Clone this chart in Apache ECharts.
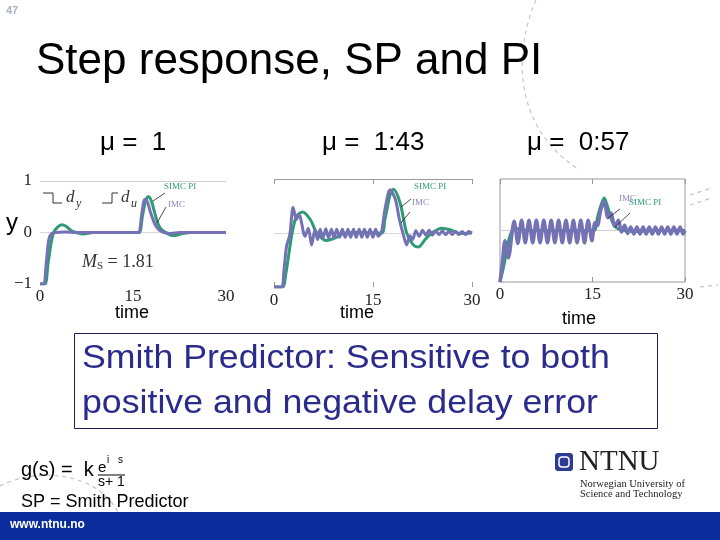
<!DOCTYPE html>
<html><head><meta charset="utf-8">
<script src="https://cdn.jsdelivr.net/npm/echarts/dist/echarts.min.js"></script>
<style>html,body{margin:0;padding:0;background:#fff}#c{width:720px;height:540px}</style>
</head><body><div id="c"></div>
<script>
// ---- data ----
const xTicks = [0, 15, 30];
const yTicks = [-1, 0, 1];
const panelTitles = ['μ =  1', 'μ =  1:43', 'μ =  0:57'];
const seriesNames = ['SIMC PI', 'IMC'];

// panel 1 : mu = 1
const simc1T = [0, 0.8, 1.3, 1.8, 2.2, 2.8, 3.5, 4.2, 5, 5.8, 7, 8.5, 10, 15, 16, 16.5, 17, 17.5, 18, 18.5, 19, 19.5, 20.3, 21.5, 23, 24.5, 30];
const simc1Y = [-1, -1, -0.6, -0.2, 0, 0.1, 0.15, 0.12, 0.04, 0, -0.03, 0, 0, 0, 0, 0.3, 0.6, 0.7, 0.6, 0.38, 0.18, 0.07, 0, -0.06, -0.02, 0, 0];
const imc1T = [0, 0.6, 1.0, 1.4, 1.8, 2.5, 4, 6, 15, 15.9, 16.4, 16.9, 17.3, 17.8, 18.5, 19.2, 20, 21, 22.5, 30];
const imc1Y = [-1, -1, -0.6, -0.15, -0.03, 0, 0.01, 0, 0, 0, 0.35, 0.64, 0.6, 0.4, 0.17, 0.05, 0, -0.02, 0, 0];

// panel 2 : mu = 1.43
const simc2T = [0, 1.3, 1.8, 2.2, 2.7, 3.4, 4.35, 5.5, 6.5, 8, 9.3, 10.5, 13, 16.3, 16.8, 17.6, 18.1, 19.1, 20.1, 21.1, 21.9, 22.9, 23.9, 25.4, 26.7, 28.2, 30];
const simc2Y = [-1, -1, -0.75, -0.43, -0.03, 0.31, 0.39, 0.25, 0, -0.14, -0.09, -0.01, 0.01, 0, 0.25, 0.71, 0.81, 0.56, 0, -0.22, -0.26, -0.12, 0, 0.09, 0.06, -0.01, 0];
const imc2T = [0, 1.15, 1.5, 1.9, 2.4, 2.9, 3.4, 3.8, 4.7, 5.2, 5.7, 6.2, 6.6, 7.0, 7.4, 7.85, 8.25, 8.7, 9.1, 9.5, 9.95, 10.35, 10.8, 11.2, 11.6, 12.05, 12.45, 12.9, 13.3, 13.7, 14.15, 14.55, 15.0, 15.4, 15.8, 16.3, 16.8, 17.6, 18.4, 19.0, 19.6, 20.1, 20.6, 21.0, 21.5, 22.0, 22.5, 23.0, 23.5, 24.0, 24.5, 25.0, 25.5, 26.0, 26.5, 27.0, 27.5, 28.0, 28.5, 29.0, 29.5, 30];
const imc2Y = [-1, -1, -0.7, -0.25, -0.03, 0.47, 0.25, 0.34, -0.06, 0.09, -0.22, 0.06, -0.12, 0.07, -0.1, 0.08, -0.09, 0.07, -0.09, 0.07, -0.08, 0.07, -0.08, 0.07, -0.08, 0.07, -0.08, 0.07, -0.08, 0.07, -0.08, 0.07, -0.08, 0.07, -0.06, 0.02, 0.43, 0.8, 0.62, 0.25, -0.03, -0.22, -0.05, -0.12, 0.04, -0.06, 0.05, -0.04, 0.05, -0.04, 0.04, -0.03, 0.04, -0.03, 0.03, -0.03, 0.03, -0.03, 0.03, -0.03, 0.03, 0];

// panel 3 : mu = 0.57
const simc3T = [0, 0.5, 1.0, 1.5, 2.0, 2.6, 4, 6, 8, 10, 12, 14, 15.3, 15.8, 16.4, 16.9, 17.4, 17.9, 18.5, 19.2, 20, 22, 25, 30];
const simc3Y = [-1, -0.75, -0.45, -0.15, 0, 0.04, 0.01, 0, 0, 0, 0, 0, 0, 0.25, 0.5, 0.63, 0.48, 0.27, 0.1, 0.03, 0, -0.02, 0, 0];
const imc3T = [0, 0.4, 0.8, 1.35, 2.3, 2.9, 3.5, 4.1, 4.7, 5.3, 5.9, 6.5, 7.1, 7.7, 8.3, 8.9, 9.5, 10.1, 10.7, 11.3, 11.9, 12.5, 13.1, 13.7, 14.3, 14.9, 15.4, 15.8, 16.3, 16.9, 17.5, 18.0, 18.6, 19.2, 19.7, 20.2, 20.7, 21.2, 21.7, 22.2, 22.7, 23.2, 23.7, 24.2, 24.7, 25.2, 25.7, 26.2, 26.7, 27.2, 27.7, 28.2, 28.7, 29.2, 29.7, 30];
const imc3Y = [-1, -0.6, -0.2, -0.53, 0.18, -0.25, 0.2, -0.24, 0.2, -0.24, 0.2, -0.24, 0.2, -0.24, 0.2, -0.24, 0.2, -0.24, 0.2, -0.24, 0.2, -0.24, 0.2, -0.24, 0.2, -0.2, 0.15, 0.1, 0.38, 0.57, 0.25, 0.34, 0.08, 0.2, -0.03, 0.1, -0.06, 0.07, -0.07, 0.07, -0.07, 0.07, -0.07, 0.07, -0.07, 0.07, -0.07, 0.07, -0.07, 0.07, -0.07, 0.07, -0.07, 0.07, -0.07, 0];

// ---- build ----
const GREEN = '#2e9a78', PURPLE = '#7471b5';
const zip = (t, y) => t.map((v, i) => [v, y[i]]);
const panels = [
  { simc: zip(simc1T, simc1Y), imc: zip(imc1T, imc1Y) },
  { simc: zip(simc2T, simc2Y), imc: zip(imc2T, imc2Y) },
  { simc: zip(simc3T, simc3Y), imc: zip(imc3T, imc3Y) }
];
const grids = [
  { left: 40, top: 181, width: 186, height: 103 },
  { left: 274, top: 179, width: 198, height: 108 },
  { left: 500, top: 179, width: 185, height: 103, show: true, borderColor: '#999', borderWidth: 1 }
];
const labelMargins = [4, 5, 4];
const splitColors = [
  ['rgba(0,0,0,0)', '#d8d8d8', '#cfcfcf'],
  ['rgba(0,0,0,0)', '#d8d8d8', '#9a9a9a'],
  ['rgba(0,0,0,0)', '#d0d0d0', 'rgba(0,0,0,0)']
];
const serif = '"Liberation Serif", "DejaVu Serif", serif';
const sans = '"Liberation Sans", Arial, sans-serif';

const xAxis = grids.map((g, i) => ({
  type: 'value', gridIndex: i, position: 'bottom', min: xTicks[0], max: xTicks[2], interval: xTicks[1] - xTicks[0],
  axisLine: { show: false, onZero: false },
  axisTick: { show: i > 0, inside: true, length: 5, lineStyle: { color: '#999' } },
  splitLine: { show: false },
  axisLabel: { fontFamily: serif, fontSize: 17, color: '#222', margin: labelMargins[i] }
}));
// top tick marks for panels 2 and 3
[1, 2].forEach(i => xAxis.push({
  type: 'value', gridIndex: i, position: 'top', min: xTicks[0], max: xTicks[2], interval: xTicks[1] - xTicks[0],
  axisLine: { show: false, onZero: false }, axisLabel: { show: false }, splitLine: { show: false },
  axisTick: { show: true, inside: true, length: 5, lineStyle: { color: '#999' } }
}));
const yAxis = grids.map((g, i) => ({
  type: 'value', gridIndex: i, min: yTicks[0], max: yTicks[2], interval: yTicks[1] - yTicks[0],
  axisLine: { show: false, onZero: false }, axisTick: { show: false },
  splitLine: { show: true, lineStyle: { color: splitColors[i], width: 1 } },
  axisLabel: { show: i === 0, fontFamily: serif, fontSize: 17, color: '#222', margin: 8,
    formatter: v => String(v).replace('-', '\u2212') }
}));
const series = [];
panels.forEach((p, i) => {
  series.push({ type: 'line', name: seriesNames[0], xAxisIndex: i, yAxisIndex: i, data: p.simc,
    showSymbol: false, smooth: 0.3, lineStyle: { color: GREEN, width: 3 }, z: 2 });
  series.push({ type: 'line', name: seriesNames[1], xAxisIndex: i, yAxisIndex: i, data: p.imc,
    showSymbol: false, smooth: 0.3, lineStyle: { color: PURPLE, width: i === 2 ? 3.5 : 3 }, z: 3 });
});

const T = (text, x, y, font, fill, extra) => Object.assign({ type: 'text', x, y, z: 10,
  style: Object.assign({ text, font, fill, verticalAlign: 'middle' }, extra || {}) });
const L = (x1, y1, x2, y2, stroke, w, dash) => ({ type: 'line', z: 10,
  shape: { x1, y1, x2, y2 }, style: { stroke, lineWidth: w || 1, lineDash: dash || null } });
const P = (pts, stroke, w) => ({ type: 'polyline', z: 10, shape: { points: pts }, style: { stroke, lineWidth: w || 1, fill: null } });

const graphic = [
  // decorative dashed arcs
  { type: 'bezierCurve', z: 0, shape: { x1: 536, y1: 0, cpx1: 512, cpy1: 55, cpx2: 515, cpy2: 130, x2: 580, y2: 170 },
    style: { stroke: '#c4c4c4', lineWidth: 1.2, lineDash: [4, 4], fill: null } },
  { type: 'bezierCurve', z: 0, shape: { x1: 0, y1: 486, cpx1: 35, cpy1: 468, cpx2: 95, cpy2: 470, x2: 118, y2: 512 },
    style: { stroke: '#c4c4c4', lineWidth: 1.2, lineDash: [4, 4], fill: null } },
  L(690, 195, 712, 188, '#c4c4c4', 1.2, [4, 4]),
  L(690, 205, 712, 198, '#c4c4c4', 1.2, [4, 4]),
  L(700, 287, 718, 285, '#c4c4c4', 1.2, [4, 4]),
  // slide number & title
  T('47', 6, 11, 'bold 11px ' + sans, '#a9b6c8'),
  T('Step response, SP and PI', 36, 62, '44px ' + sans, '#000'),
  // panel titles
  T(panelTitles[0], 100, 143, '26px ' + sans, '#000'),
  T(panelTitles[1], 322, 143, '26px ' + sans, '#000'),
  T(panelTitles[2], 527, 143, '26px ' + sans, '#000'),
  // axis names
  T('y', 6, 223, '24px ' + sans, '#000'),
  T('time', 115, 313, '18px ' + sans, '#000'),
  T('time', 340, 313, '18px ' + sans, '#000'),
  T('time', 562, 319, '18px ' + sans, '#000'),
  // panel 1 annotations
  P([[43, 193], [53, 193], [53, 203], [62, 203]], '#333', 1),
  T('d', 66, 198, 'italic 17px ' + serif, '#333'),
  T('y', 76, 204, 'italic 12px ' + serif, '#333'),
  P([[102, 203], [112, 203], [112, 193], [118, 193]], '#333', 1),
  T('d', 121, 198, 'italic 17px ' + serif, '#333'),
  T('u', 131, 204, 'italic 12px ' + serif, '#333'),
  T('SIMC PI', 164, 187, '9px ' + serif, GREEN),
  T('IMC', 168, 205, '9px ' + serif, '#8884c0'),
  L(153, 201, 165, 193, '#222', 0.8),
  L(157, 223, 166, 207, '#222', 0.8),
  { type: 'text', x: 82, y: 262, z: 10, style: { text: '{m|M}{s|S} = 1.81', font: '18px ' + serif, fill: '#333', verticalAlign: 'middle',
    rich: { m: { fontFamily: serif, fontStyle: 'italic', fontSize: 18, fill: '#333' }, s: { fontFamily: serif, fontSize: 11, fill: '#333', padding: [8, 0, 0, 0] } } } },
  // panel 2 annotations
  T('SIMC PI', 414, 187, '9px ' + serif, GREEN),
  T('IMC', 412, 203, '9px ' + serif, '#8884c0'),
  L(401, 207, 411, 199, '#222', 0.8),
  L(401, 223, 410, 212, '#222', 0.8),
  // panel 3 annotations
  T('IMC', 619, 199, '9px ' + serif, '#8884c0'),
  T('SIMC PI', 629, 203, '9px ' + serif, GREEN),
  L(608, 218, 620, 209, '#222', 0.8),
  L(615, 227, 630, 213, '#222', 0.8),
  // box
  { type: 'rect', z: 10, shape: { x: 74.5, y: 333.5, width: 583, height: 95 }, style: { fill: null, stroke: '#1c1c5c', lineWidth: 1 } },
  Object.assign(T('Smith Predictor: Sensitive to both', 82, 359, '34px ' + sans, '#2b2b8c'), { scaleX: 1.05 }),
  Object.assign(T('positive and negative delay error', 82, 404, '34px ' + sans, '#2b2b8c'), { scaleX: 1.05 }),
  // formula
  T('g(s) =  k', 21, 470, '20px ' + sans, '#000'),
  T('e', 98, 468, '15px ' + sans, '#000'),
  T('i', 107, 460, '10px ' + sans, '#000'),
  T('s', 118, 460, '10px ' + sans, '#000'),
  L(98, 475, 125, 475, '#000', 1),
  T('s+ 1', 98, 482, '14px ' + sans, '#000'),
  T('SP = Smith Predictor', 21, 502, '18px ' + sans, '#000'),
  // logo
  { type: 'rect', z: 10, shape: { x: 555, y: 453, width: 18, height: 18, r: 3 }, style: { fill: '#2e3b94' } },
  { type: 'rect', z: 11, shape: { x: 559, y: 457, width: 10, height: 10, r: 3 }, style: { fill: '#2e3b94', stroke: '#fff', lineWidth: 1.5 } },
  T('NTNU', 579, 462, '29px ' + serif, '#222'),
  T('Norwegian University of', 580, 484, '10.5px ' + serif, '#222'),
  T('Science and Technology', 580, 494, '10.5px ' + serif, '#222'),
  // bottom bar
  { type: 'rect', z: 12, shape: { x: 0, y: 512, width: 720, height: 28 }, style: { fill: '#0b2c9c' } },
  L(117, 514, 125, 540, '#d0d8f0', 1.2, [3, 4]),
  { type: 'text', x: 10, y: 525, z: 13, style: { text: 'www.ntnu.no', font: 'bold 12px ' + sans, fill: '#fff', verticalAlign: 'middle' } }
];

const chart = echarts.init(document.getElementById('c'), null, { renderer: 'canvas' });
chart.setOption({
  backgroundColor: '#fff',
  animation: false,
  grid: grids,
  xAxis, yAxis, series, graphic
});
</script></body></html>
